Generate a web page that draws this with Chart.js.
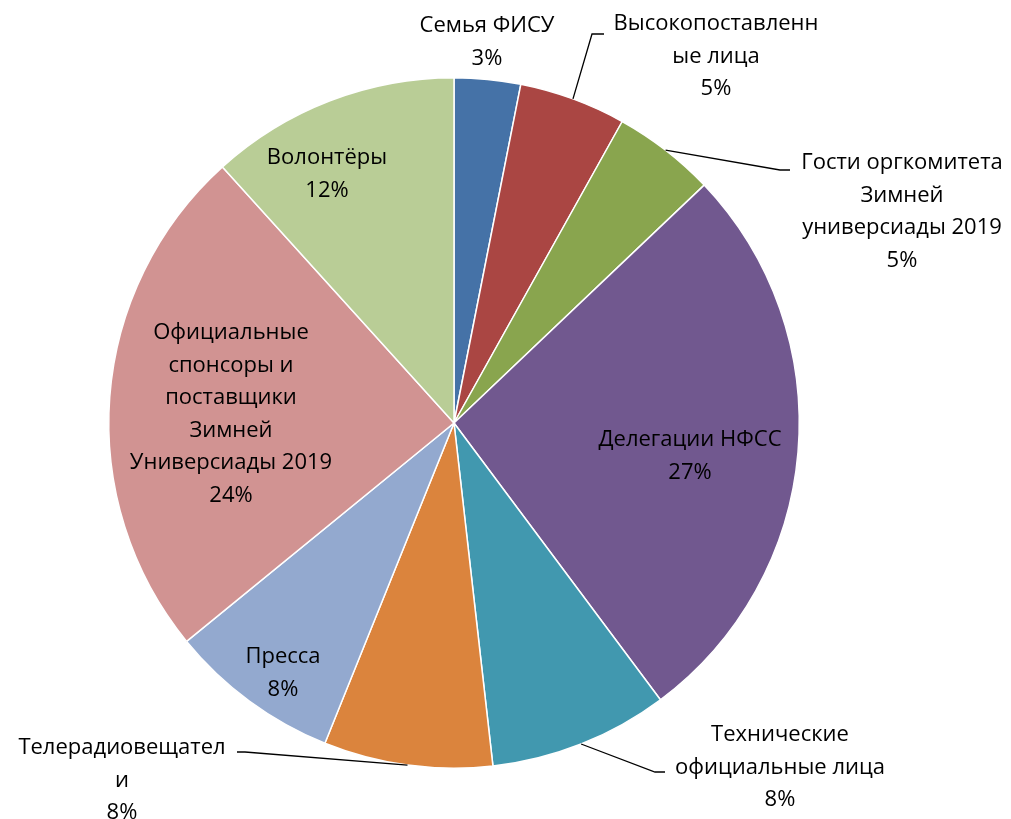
<!DOCTYPE html>
<html>
<head>
<meta charset="utf-8">
<script src="https://cdn.jsdelivr.net/npm/chart.js@4/dist/chart.umd.min.js"></script>
<style>
  html, body { margin: 0; padding: 0; background: #fff; }
  #wrap { width: 1011px; height: 819px; position: relative; }
</style>
</head>
<body>
<div id="wrap"><canvas id="pie"></canvas></div>
<script>
// ---- Data ----
const categories = [
  ['Семья ФИСУ'],
  ['Высокопоставленн', 'ые лица'],
  ['Гости оргкомитета', 'Зимней', 'универсиады 2019'],
  ['Делегации НФСС'],
  ['Технические', 'официальные лица'],
  ['Телерадиовещател', 'и'],
  ['Пресса'],
  ['Официальные', 'спонсоры и', 'поставщики', 'Зимней', 'Универсиады 2019'],
  ['Волонтёры']
];
const shares = [3.1, 5.0, 4.8, 26.9, 8.4, 7.9, 8.0, 24.2, 11.7];
const colors = ['#4572A7', '#AA4643', '#89A54E', '#71588F', '#4198AF', '#DB843D', '#93A9CF', '#D19392', '#B9CD96'];

// ---- Label layout (pixel anchors: centre x, first line y; optional leader elbow) ----
const labelAnchors = [
  { x: 487, y: 26 },
  { x: 716, y: 24, elbow: [592, 34], end: [604, 34] },
  { x: 902, y: 163, elbow: [780, 170], end: [790, 170] },
  { x: 690, y: 440 },
  { x: 780, y: 735, elbow: [655, 772], end: [665, 772] },
  { x: 122, y: 748, elbow: [245, 752], end: [237, 752] },
  { x: 283, y: 657 },
  { x: 231, y: 333 },
  { x: 327, y: 158 }
];
const lineHeight = 32.5;

const labelPlugin = {
  id: 'pieLabels',
  afterDatasetsDraw(chart) {
    const ctx = chart.ctx;
    const meta = chart.getDatasetMeta(0);
    const total = shares.reduce((a, b) => a + b, 0);
    ctx.save();
    meta.data.forEach((arc, i) => {
      const a = labelAnchors[i];
      if (a.elbow) {
        const mid = (arc.startAngle + arc.endAngle) / 2;
        const sx = arc.x + Math.cos(mid) * arc.outerRadius;
        const sy = arc.y + Math.sin(mid) * arc.outerRadius;
        ctx.beginPath();
        ctx.moveTo(sx, sy);
        ctx.lineTo(a.elbow[0], a.elbow[1]);
        ctx.lineTo(a.end[0], a.end[1]);
        ctx.strokeStyle = '#000';
        ctx.lineWidth = 1.3;
        ctx.stroke();
      }
      const lines = categories[i].concat([Math.round(shares[i] / total * 100) + '%']);
      ctx.fillStyle = '#000';
      ctx.font = '22px "Open Sans", sans-serif';
      ctx.textAlign = 'center';
      ctx.textBaseline = 'middle';
      lines.forEach((t, k) => ctx.fillText(t, a.x, a.y + k * lineHeight));
    });
    ctx.restore();
  }
};

new Chart(document.getElementById('pie'), {
  type: 'pie',
  data: {
    labels: categories.map(c => c.join(' ')),
    datasets: [{
      data: shares,
      backgroundColor: colors,
      borderColor: '#ffffff',
      borderWidth: 1.5
    }]
  },
  options: {
    responsive: true, maintainAspectRatio: false,
    animation: false,
    layout: { padding: { left: 108, right: 211, top: 77, bottom: 50 } },
    plugins: { legend: { display: false }, tooltip: { enabled: false } }
  },
  plugins: [labelPlugin]
});
</script>
</body>
</html>
